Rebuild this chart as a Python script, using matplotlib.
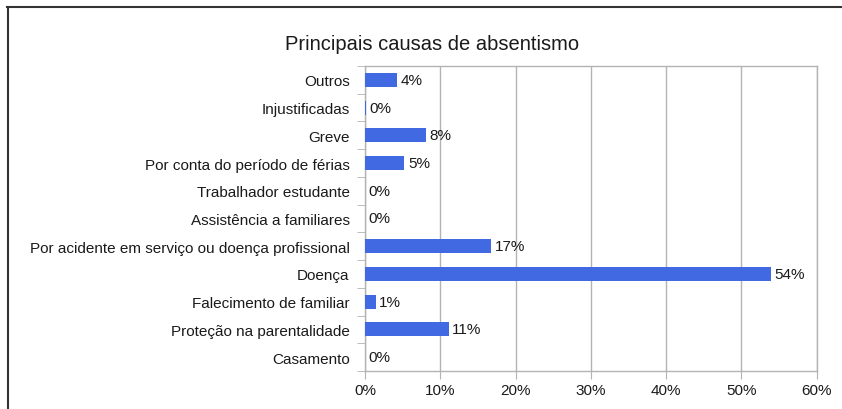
import matplotlib
matplotlib.use("Agg")
import matplotlib.pyplot as plt
from matplotlib.lines import Line2D

plt.rcParams['font.family'] = ['Liberation Sans', 'DejaVu Sans']

# data (bottom to top)
categories = ['Casamento', 'Proteção na parentalidade', 'Falecimento de familiar',
              'Doença', 'Por acidente em serviço ou doença profissional',
              'Assistência a familiares', 'Trabalhador estudante',
              'Por conta do período de férias', 'Greve', 'Injustificadas', 'Outros']
values = [0.0, 11.1, 1.4, 53.9, 16.7, 0.0, 0.0, 5.2, 8.1, 0.1, 4.2]
labels = ['0%', '11%', '1%', '54%', '17%', '0%', '0%', '5%', '8%', '0%', '4%']
xticks = [0, 10, 20, 30, 40, 50, 60]

W, H = 842, 410
fig = plt.figure(figsize=(W / 100, H / 100), dpi=100)
ax = fig.add_axes([365 / W, 1 - 372 / H, (816.5 - 365) / W, (372 - 67) / H])

grey = '#b3b3b3'
y = range(len(categories))
ax.barh(y, values, height=0.5, color='#4169e1', zorder=3)
for yi, v, lab in zip(y, values, labels):
    ax.text(v + 0.5, yi, lab, va='center', ha='left', fontsize=11, color='#1a1a1a')

ax.set_xlim(0, 60)
ax.set_ylim(-0.5, len(categories) - 0.5)
ax.set_xticks(xticks)
ax.set_xticklabels([f'{t}%' for t in xticks], fontsize=11, color='#1a1a1a')
ax.set_yticks(list(y))
ax.set_yticklabels(categories, fontsize=11, color='#1a1a1a')
ax.tick_params(axis='y', length=0, pad=11)
ax.tick_params(axis='x', length=6, color=grey, pad=3)
ax.xaxis.grid(True, color=grey, linewidth=1, zorder=0)
ax.set_axisbelow(True)

# minor ticks at category boundaries on the left
ax.set_yticks([i - 0.5 for i in range(len(categories) + 1)], minor=True)
ax.tick_params(axis='y', which='minor', length=6, color=grey)

for s in ax.spines.values():
    s.set_color(grey)
    s.set_linewidth(1)

fig.text(432 / W, 1 - 45 / H, 'Principais causas de absentismo', ha='center', va='center',
         fontsize=14.5, color='#1a1a1a')

# outer frame lines (top and left)
fig.add_artist(Line2D([7 / W, 1], [1 - 7.5 / H, 1 - 7.5 / H], color='#333333', linewidth=1.5))
fig.add_artist(Line2D([8 / W, 8 / W], [0, 1 - 7.5 / H], color='#333333', linewidth=1.5))

fig.savefig('out.png', dpi=100)
